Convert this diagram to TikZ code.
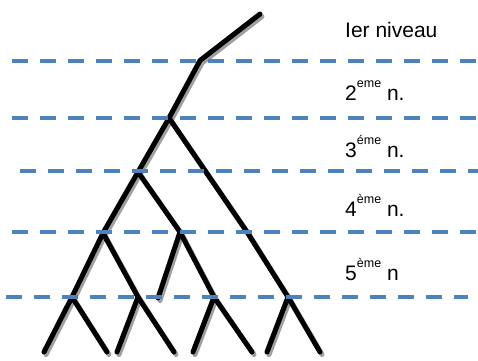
\documentclass[tikz,border=0pt]{standalone}
\usepackage{fontspec}
\setmainfont{Liberation Sans}
\definecolor{dashblue}{RGB}{79,129,189}
\definecolor{shadowgray}{RGB}{160,160,160}
\newcommand{\supx}[1]{\raisebox{0.6em}{\fontsize{12.5}{12.5}\selectfont #1}}
\begin{document}
\begin{tikzpicture}[x=1pt,y=-1pt,
  branch/.style={line width=5pt,line cap=round,line join=round},
  level/.style={dashblue,line width=4pt,dash pattern=on 16pt off 12pt},
  lbl/.style={anchor=base west,inner sep=0pt,font=\fontsize{21}{25}\selectfont}]
\useasboundingbox (0,0) rectangle (478,360);
% tree coordinates
\coordinate (t) at (260,14);
\coordinate (a) at (200,60.5);
\coordinate (b) at (169,118);
\coordinate (c) at (138,172);
\coordinate (r1) at (247,232);
\coordinate (r2) at (288,297);
\coordinate (r3) at (320,352);
\coordinate (d) at (103,233);
\coordinate (e) at (180,232);
\coordinate (f) at (72,297);
\coordinate (g) at (138,297);
\coordinate (h) at (214,297);
\coordinate (s) at (158,298);
\coordinate (l1) at (44,352);
\coordinate (l2) at (107,352);
\coordinate (l3) at (117,352);
\coordinate (l4) at (174,352);
\coordinate (l5) at (193,352);
\coordinate (l6) at (252,352);
\coordinate (l7) at (267,352);
\newcommand{\treepaths}{%
  (t) -- (a) -- (b) -- (c) -- (d) -- (f) -- (l1)
  (b) -- (r1) -- (r2) -- (r3)
  (c) -- (e) -- (h) -- (l6)
  (e) -- (s)
  (d) -- (g) -- (l4)
  (f) -- (l2)
  (g) -- (l3)
  (h) -- (l5)
  (r2) -- (l7)}
\begin{scope}[transform canvas={shift={(2,2.5)}}]
\draw[branch,shadowgray] \treepaths;
\end{scope}
\draw[branch,black] \treepaths;
% level lines
\coordinate (p1a) at (12,60.5);  \coordinate (p1b) at (478,60.5);
\coordinate (p2a) at (12,118);   \coordinate (p2b) at (478,118);
\coordinate (p3a) at (20,170.5); \coordinate (p3b) at (478,170.5);
\coordinate (p4a) at (12,232);   \coordinate (p4b) at (478,232);
\coordinate (p5a) at (6,296.5);  \coordinate (p5b) at (468,296.5);
\draw[level] (p1a) -- (p1b);
\draw[level] (p2a) -- (p2b);
\draw[level] (p3a) -- (p3b);
\draw[level] (p4a) -- (p4b);
\draw[level] (p5a) -- (p5b);
% labels
\node[lbl] (n1) at (345,37) {Ier niveau};
\node[lbl] (n2) at (345,100) {2\supx{eme} n.};
\node[lbl] (n3) at (345,157) {3\supx{éme} n.};
\node[lbl] (n4) at (345,216) {4\supx{ème} n.};
\node[lbl] (n5) at (345,280) {5\supx{ème} n};
\end{tikzpicture}
\end{document}
